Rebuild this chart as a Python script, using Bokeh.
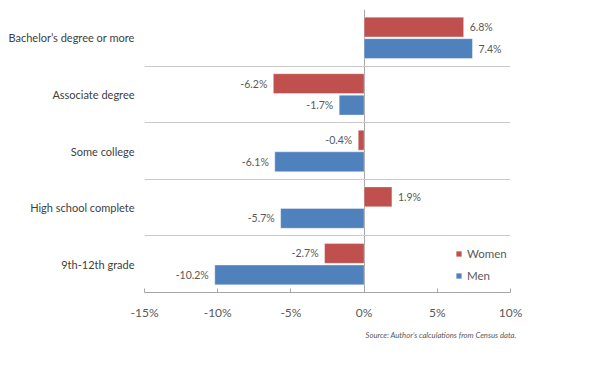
from bokeh.plotting import figure
from bokeh.models import (ColumnDataSource, Range1d, FixedTicker, PrintfTickFormatter,
                          Legend, LegendItem, Title)
from bokeh.embed import file_html
from bokeh.resources import INLINE

categories = ["Bachelor’s degree or more", "Associate degree", "Some college",
              "High school complete", "9th-12th grade"]
women = [6.8, -6.2, -0.4, 1.9, -2.7]
men = [7.4, -1.7, -6.1, -5.7, -10.2]
x_ticks = [-15, -10, -5, 0, 5, 10]
source_note = "Source: Author’s calculations from Census data."

FONT = "Lato"
RED = "#C0504D"
BLUE = "#4F81BD"
GRAY = "#595959"

n = len(categories)
centers = [n - 0.5 - i for i in range(n)]
off = 0.19

def fmt(v):
    return f"{v:.1f}%"

def src(vals, sign):
    return ColumnDataSource(dict(
        y=[c + sign * off for c in centers],
        v=vals,
        lab=[fmt(v) for v in vals],
        align=["left" if v >= 0 else "right" for v in vals],
        xo=[6 if v >= 0 else -6 for v in vals],
    ))

ws = src(women, 1)
ms = src(men, -1)

p = figure(width=584, height=350, output_backend="svg", toolbar_location=None,
           x_range=Range1d(-15, 10), y_range=Range1d(0, n))
p.min_border_left = 144
p.min_border_right = 74
p.min_border_top = 9
p.min_border_bottom = 58
p.outline_line_color = None
p.background_fill_color = "white"
p.border_fill_color = "white"

rw = p.hbar(y="y", right="v", left=0, height=0.35, source=ws, fill_color=RED,
            line_color="white", line_alpha=0.35)
rm = p.hbar(y="y", right="v", left=0, height=0.35, source=ms, fill_color=BLUE,
            line_color="white", line_alpha=0.35)

for s in (ws, ms):
    p.text(x="v", y="y", text="lab", source=s, text_align="align", x_offset="xo",
           text_baseline="middle", text_font_size="10.5px", text_color=GRAY,
           text_font={"value": FONT})

# x axis
p.xaxis.ticker = FixedTicker(ticks=x_ticks)
p.xaxis.formatter = PrintfTickFormatter(format="%d%%")
p.xaxis.axis_line_color = "#a6a6a6"
p.xaxis.major_tick_line_color = "#a6a6a6"
p.xaxis.major_tick_in = 4
p.xaxis.major_tick_out = 0
p.xaxis.minor_tick_line_color = None
p.xaxis.minor_tick_in = 0
p.xaxis.minor_tick_out = 0
p.xaxis.major_label_text_font = FONT
p.xaxis.major_label_text_font_size = "12px"
p.xaxis.major_label_text_color = GRAY
p.xaxis.major_label_standoff = 12

# y axis
p.yaxis.ticker = FixedTicker(ticks=centers)
p.yaxis.major_label_overrides = {c: cat for c, cat in zip(centers, categories)}
p.yaxis.axis_line_color = None
p.yaxis.major_tick_line_color = None
p.yaxis.minor_tick_line_color = None
p.yaxis.major_tick_in = 0
p.yaxis.major_tick_out = 0
p.yaxis.minor_tick_in = 0
p.yaxis.minor_tick_out = 0
p.yaxis.major_label_text_font = FONT
p.yaxis.major_label_text_font_size = "11px"
p.yaxis.major_label_text_color = "#404040"
p.yaxis.major_label_standoff = 10

# grids
p.ygrid.ticker = FixedTicker(ticks=list(range(1, n + 1)))
p.ygrid.grid_line_color = "#c8c8c8"
p.xgrid.ticker = FixedTicker(ticks=[0])
p.xgrid.grid_line_color = "#a6a6a6"

legend = Legend(items=[LegendItem(label="Women", renderers=[rw]),
                       LegendItem(label="Men", renderers=[rm])],
                location=(311, 8), padding=0, margin=0, spacing=4,
                glyph_width=7, glyph_height=7, label_height=18, label_standoff=5,
                label_text_font=FONT, label_text_font_size="11.5px",
                label_text_color=GRAY, border_line_color=None,
                background_fill_alpha=0)
p.add_layout(legend)

p.add_layout(Title(text=source_note, align="right", offset=-6, standoff=10,
                   text_font=FONT, text_font_size="7.7px", text_font_style="italic",
                   text_color=GRAY), "below")

open("out.html", "w").write(file_html(p, INLINE))
